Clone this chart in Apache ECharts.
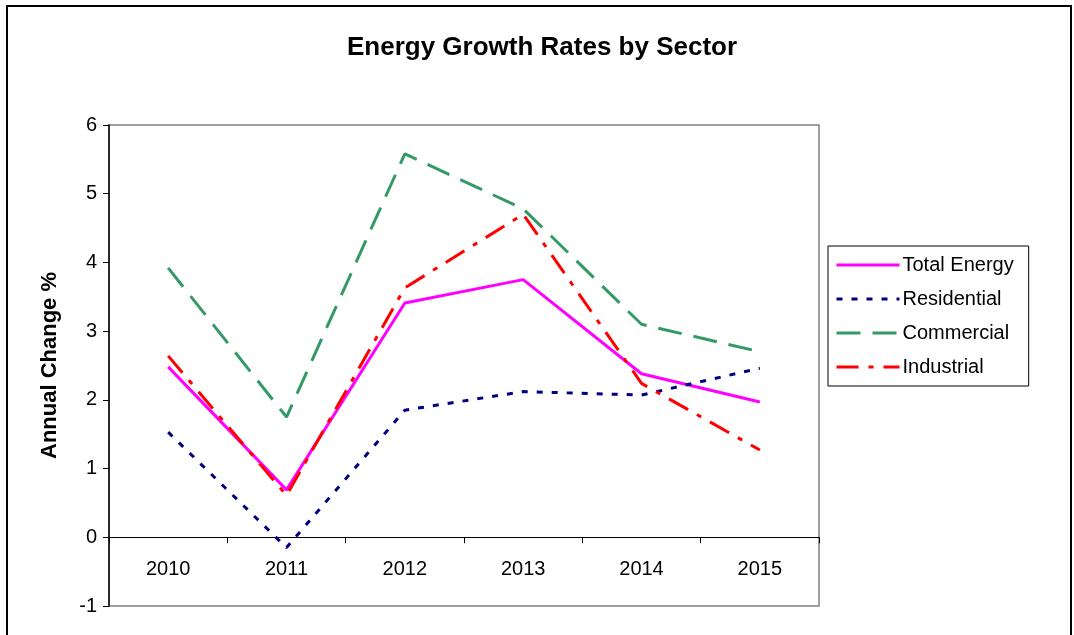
<!DOCTYPE html>
<html>
<head>
<meta charset="utf-8">
<script src="https://cdn.jsdelivr.net/npm/echarts@6/dist/echarts.min.js"></script>
<style>
  html, body { margin: 0; padding: 0; background: #fff; }
  #chart { width: 1074px; height: 635px; }
</style>
</head>
<body>
<div id="chart"></div>
<script>
var years = ['2010', '2011', '2012', '2013', '2014', '2015'];
var totalEnergy = [2.48, 0.69, 3.41, 3.75, 2.38, 1.97];
var residential = [1.53, -0.15, 1.85, 2.12, 2.07, 2.46];
var commercial = [3.92, 1.75, 5.58, 4.78, 3.10, 2.70];
var industrial = [2.64, 0.61, 3.63, 4.70, 2.24, 1.27];

var font = 'Liberation Sans, Arial, sans-serif';
var yMin = -1, yMax = 6;
var gridTop = 125, gridBottom = 29;
var plotH = 635 - gridTop - gridBottom;
// move the category axis up to the zero line
var zeroOffset = -plotH * (0 - yMin) / (yMax - yMin);

var chart = echarts.init(document.getElementById('chart'));

function line(name, data, color, dash) {
  return {
    name: name,
    type: 'line',
    data: data,
    symbol: 'none',
    animation: false,
    lineStyle: { color: color, width: 3, type: dash },
    itemStyle: { color: color }
  };
}

chart.setOption({
  backgroundColor: '#fff',
  animation: false,
  title: {
    text: 'Energy Growth Rates by Sector',
    left: 537,
    top: 30,
    textAlign: 'center',
    textStyle: { fontFamily: font, fontSize: 26, fontWeight: 'bold', color: '#000' }
  },
  graphic: [{
    type: 'rect',
    shape: { x: 7, y: 6, width: 1064, height: 640 },
    style: { fill: 'none', stroke: '#000', lineWidth: 2 },
    silent: true
  }],
  legend: {
    orient: 'vertical',
    left: 828,
    top: 246,
    padding: [9, 15, 9, 7],
    itemWidth: 63,
    itemHeight: 14,
    itemGap: 14,
    borderColor: '#000',
    borderWidth: 1,
    itemStyle: { opacity: 0 },
    lineStyle: { width: 3 },
    textStyle: { fontFamily: font, fontSize: 20, color: '#000', padding: [0, 0, 0, -2] },
    data: ['Total Energy', 'Residential', 'Commercial', 'Industrial']
  },
  grid: {
    left: 109, top: gridTop, right: 255, bottom: gridBottom,
    show: true, borderColor: '#808080', borderWidth: 1.5
  },
  xAxis: {
    type: 'category',
    data: years,
    boundaryGap: true,
    offset: zeroOffset,
    axisLine: { onZero: false, lineStyle: { color: '#000', width: 1 } },
    axisTick: { show: true, inside: false, length: 6, lineStyle: { color: '#000' } },
    axisLabel: { fontFamily: font, fontSize: 20, color: '#000', margin: 22 },
    splitLine: { show: false }
  },
  yAxis: {
    type: 'value',
    min: yMin, max: yMax, interval: 1,
    name: 'Annual Change %',
    nameLocation: 'middle',
    nameGap: 48,
    nameRotate: 90,
    nameTextStyle: { fontFamily: font, fontSize: 22, fontWeight: 'bold', color: '#000' },
    axisLine: { show: true, lineStyle: { color: '#000', width: 1.5 } },
    axisTick: { show: true, length: 6, lineStyle: { color: '#000' } },
    axisLabel: { fontFamily: font, fontSize: 20, color: '#000', margin: 12 },
    splitLine: { show: false }
  },
  series: [
    line('Total Energy', totalEnergy, '#FF00FF', 'solid'),
    line('Residential', residential, '#000080', [6, 9]),
    line('Commercial', commercial, '#339966', [24, 12]),
    line('Industrial', industrial, '#FF0000', [22, 10, 5, 10])
  ]
});
</script>
</body>
</html>
